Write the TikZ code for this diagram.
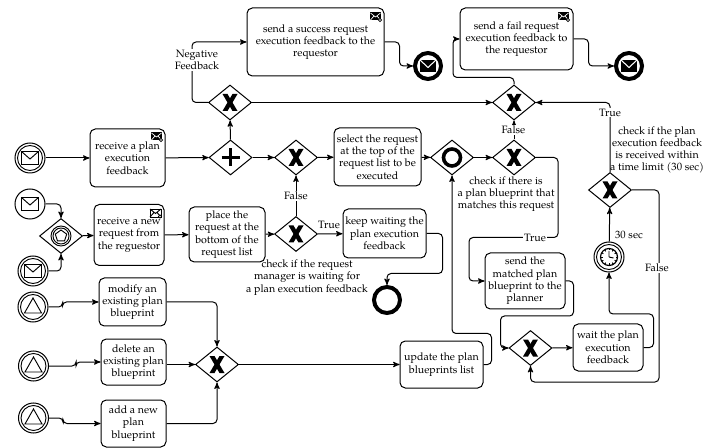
\documentclass[tikz,border=0pt]{standalone}
\usepackage{fontspec}
\setmainfont{TeX Gyre Pagella}
\usepackage{amsmath}
\usetikzlibrary{arrows, shapes, calc, positioning}
\newcommand{\px}{0.75pt}
\newcommand{\labelfont}{\fontsize{8}{9.2}\selectfont}
\tikzset {
    activity/.style args = {#1 by #2}{
        draw,
        shape = rectangle,
        rounded corners=4pt,
        line width=0.75pt,
        align=center,
        inner sep=0pt,
        font=\labelfont,
        minimum width=#1*\px,
        minimum height=#2*\px
    },
    % small envelopes for the upper right corner of a task
    sendmark/.pic = {
        \fill (-5.5,-4) rectangle (5.5,4);
        \draw[white, line width=0.5pt] (-5,-3.5) -- (0,0.5) -- (5,-3.5) (-5,3.5) -- (-1.5,-0.5) (5,3.5) -- (1.5,-0.5);
        \filldraw[fill=white, draw=black, line width=0.5pt] (4.5,3.5) circle (1.6);
    },
    receivemark/.pic = {
        \draw[line width=0.7pt] (-5.5,-4) rectangle (5.5,4);
        \draw[line width=0.7pt] (-5.5,-4) -- (0,0.5) -- (5.5,-4) (-5.5,4) -- (-1.5,-0.5) (5.5,4) -- (1.5,-0.5);
        \filldraw[fill=white, draw=black, line width=0.5pt] (4.5,3.5) circle (1.6);
    },
    gate/.style = {
        draw,
        shape = diamond,
        line width=0.75pt,
        inner sep=0pt,
        minimum width=43*\px,
        minimum height=35*\px
    },
    xgate/.style = {
        gate,
        path picture = {
            \begin{scope}[shift={(path picture bounding box.center)}]
                \fill (-7.5,-8.5) -- (-2.5,-8.5) -- (7.5,8.5) -- (2.5,8.5) -- cycle;
                \fill (7.5,-8.5) -- (2.5,-8.5) -- (-7.5,8.5) -- (-2.5,8.5) -- cycle;
            \end{scope}
        }
    },
    plusgate/.style = {
        gate,
        path picture = {
            \draw[line width=2.7pt, shift={(path picture bounding box.center)}]
                (-9,0) -- (9,0) (0,-9) -- (0,9);
        }
    },
    ogate/.style = {
        gate,
        path picture = {
            \draw[line width=2.7pt, shift={(path picture bounding box.center)}] (0,0) circle (8.5);
        }
    },
    eventgate/.style = {
        gate,
        path picture = {
            \begin{scope}[shift={(path picture bounding box.center)}, line width=0.7pt]
                \draw (0,0) circle (10) (0,0) circle (8);
                \draw (-90:6) -- (-18:6) -- (54:6) -- (126:6) -- (198:6) -- cycle;
            \end{scope}
        }
    },
    event/.style = {
        draw,
        shape = circle,
        line width=0.75pt,
        inner sep=0pt,
        minimum size=30*\px
    },
    mailstart/.style = {
        event,
        path picture = {
            \begin{scope}[shift={(path picture bounding box.center)}, line width=0.7pt]
                \draw (-8.5,-6.5) rectangle (8.5,6.5);
                \draw (-8.5,-6.5) -- (0,1) -- (8.5,-6.5);
            \end{scope}
        }
    },
    mailcatch/.style = {
        event,
        path picture = {
            \begin{scope}[shift={(path picture bounding box.center)}, line width=0.7pt]
                \draw (0,0) circle (12.5);
                \draw (-8.5,-6.5) rectangle (8.5,6.5);
                \draw (-8.5,-6.5) -- (0,1) -- (8.5,-6.5);
            \end{scope}
        }
    },
    signalcatch/.style = {
        event,
        path picture = {
            \begin{scope}[shift={(path picture bounding box.center)}, line width=0.7pt]
                \draw (0,0) circle (12.5);
                \draw (0,-9) -- (8.5,6) -- (-8.5,6) -- cycle;
            \end{scope}
        }
    },
    timercatch/.style = {
        event,
        path picture = {
            \begin{scope}[shift={(path picture bounding box.center)}, line width=0.7pt]
                \draw (0,0) circle (12.5);
                \draw[line width=0.9pt] (0,0) circle (8.5);
                \foreach \a in {0,30,...,330}
                    \draw (\a:8.5) -- (\a:6.5);
                \draw (0,0) -- (0,-6) (0,0) -- (4.5,1);
            \end{scope}
        }
    },
    finish/.style = {
        event,
        line width=3pt,
        minimum size=26*\px
    },
    mailfinish/.style = {
        finish,
        path picture = {
            \begin{scope}[shift={(path picture bounding box.center)}]
                \fill (-8,-6) rectangle (8,6);
                \draw[white, line width=0.8pt] (-8,-6) -- (0,1.5) -- (8,-6);
            \end{scope}
        }
    },
    flow/.style = {
        ->,
        >=stealth',
        line width=0.75pt,
        rounded corners=3pt,
        draw
    },
    note/.style = {
        align=center,
        inner sep=0.5pt,
        font=\labelfont
    },
    flownote/.style = {
        note,
        fill=white
    }
}

\begin{document}
\begin{tikzpicture}[x=\px, y=-\px]
        \useasboundingbox (0,0) rectangle (716,448);

        % Upper row : the two feedback tasks and their end events
        \node [activity={137 by 68}] at (315.5,42)              (success)   {send a success request\\execution feedback to the\\requestor};
        \node [mailfinish] at (428,66)                          (endA)      {};
        \node [activity={113 by 62}] at (516.5,39)              (fail)      {send a fail request\\execution feedback to\\the requestor};
        \node [mailfinish] at (629,66)                          (endB)      {};

        % Gateways above the request row
        \node [xgate] at (230,102.5)                            (negGate)   {};
        \node [xgate] at (514,102.5)                            (topGate)   {};

        % Plan feedback row
        \node [mailcatch] at (30,158)                           (startFb)   {};
        \node [activity={75 by 58}] at (127.5,158)              (recvFb)    {receive a plan\\execution\\feedback};
        \node [plusgate] at (230.5,157.5)                       (plusGate)  {};
        \node [xgate] at (296,157.5)                            (waitGate)  {};
        \node [activity={87 by 58}] at (377.5,157)              (select)    {select the request\\at the top of the\\request list to be\\executed};
        \node [ogate] at (452,157.5)                            (orGate)    {};
        \node [xgate] at (514,157.5)                            (planGate)  {};
        \node [xgate] at (610,190)                              (timeGate)  {};

        % New request row
        \node [mailstart] at (30,204)                           (startNew)  {};
        \node [eventgate] at (61,236)                           (evGate)    {};
        \node [mailcatch] at (33,271)                           (startAlt)  {};
        \node [activity={70 by 61}] at (129,235)                (recvNew)   {receive a new\\request from\\the reguestor};
        \node [activity={76 by 55}] at (227,234.5)              (place)     {place the\\request at the\\bottom of the\\request list};
        \node [xgate] at (296,234)                              (recGate)   {};
        \node [activity={83 by 49}] at (384.5,233.5)            (keep)      {keep waiting the\\plan execution\\feedback};
        \node [finish] at (387,300)                             (endNone)   {};
        \node [timercatch] at (609,257)                         (timer)     {};
        \node [activity={80 by 56}] at (525,281)                (matched)   {send the\\matched plan\\blueprint to the\\planner};

        % Blueprint rows
        \node [signalcatch] at (33,307)                         (sigA)      {};
        \node [signalcatch] at (33.5,366)                       (sigB)      {};
        \node [signalcatch] at (33.5,418)                       (sigC)      {};
        \node [activity={67 by 48}] at (132.5,302)              (modify)    {modify an\\existing plan\\blueprint};
        \node [activity={65 by 46}] at (133.5,362)              (delete)    {delete an\\existing plan\\blueprint};
        \node [activity={65 by 47}] at (133.5,423.5)            (add)       {add a new\\plan\\blueprint};
        \node [xgate] at (217,364.5)                            (merge)     {};
        \node [activity={83 by 47}] at (441.5,364.5)            (update)    {update the plan\\blueprints list};
        \node [xgate] at (530.5,348)                            (loopGate)  {};
        \node [activity={70 by 47}] at (608,347.5)              (wait)      {wait the plan\\execution\\feedback};

        % Task markers
        \pic at ($(success.north east)+(-9,9)$) {sendmark};
        \pic at ($(fail.north east)+(-10,9)$)   {sendmark};
        \pic at ($(recvFb.north east)+(-9,8)$)  {sendmark};
        \pic at ($(recvNew.north east)+(-9,9)$) {receivemark};

        \path[flow] (startFb)       --  (recvFb);
        \path[flow] (recvFb)        --  (plusGate);
        \path[flow] (plusGate)      --  (negGate);
        \path[flow] (plusGate)      --  (waitGate);
        \path[flow] (waitGate)      --  (select);
        \path[flow] (select)        --  (orGate);
        \path[flow] (orGate)        --  (planGate);
        \path[flow] (negGate)       --  (topGate);
        \path[flow] (planGate)      --  (topGate);

        \path[flow] (negGate.west) -- ++(-16,0) |- (success.west);
        \path[flow] (success.east) -- ++(15,0) |- (endA.west);
        \path[flow] (topGate.north) -- ++(0,-7) -- ++(-61,0) |- (fail.west);
        \path[flow] (fail.east) -- ++(15,0) |- (endB.west);
        \path[flow] (timeGate.north) |- (topGate.east);

        \path[flow] (startNew.east) -| (evGate.north);
        \path[flow] (startAlt.east) -| (evGate.south);
        \path[flow] (evGate)        --  (recvNew);
        \path[flow] (recvNew)       --  (place);
        \path[flow] (place)         --  (recGate);
        \path[flow] (recGate)       --  (keep);
        \path[flow] (recGate)       --  (waitGate);
        \path[flow] (keep.east) -- ++(16,0) -- ++(0,40) -| (endNone.north);

        \path[flow] (planGate.east) -- ++(22,0) -- ++(0,80) -- ++(-89,0) |- (matched.west);
        \path[flow] (matched.east) -- ++(8,0) -- ++(0,35) -- ++(-73,0) |- (loopGate.west);
        \path[flow] (loopGate)      --  (wait);
        \path[flow] (wait.east) -- ++(10,0) -- ++(0,-33.5) -| (timer.south);
        \path[flow] (timer)         --  (timeGate);
        \path[flow] (timeGate.east) -- ++(27,0) -- ++(0,192) -| (loopGate.south);

        \path[flow] (sigA.east) -- ++(14,0) |- (modify.west);
        \path[flow] (sigB.east) -- ++(27,0) |- (delete.west);
        \path[flow] (sigC.east) -- ++(14,0) |- (add.west);
        \path[flow] (modify.east) -| (merge.north);
        \path[flow] (merge.west -| delete.east) -- (merge.west);
        \path[flow] (add.east) -| (merge.south);
        \path[flow] (merge)         --  (update);
        \path[flow] (update.east) -- ++(8,0) -- ++(0,-31) -| (orGate.south);

        % Labels on the flows and beside the gateways
        \node [flownote] at (197,60)        (lblNeg)        {Negative\\Feedback};
        \node [flownote] at (296,196)       (lblRecFalse)   {False};
        \node [flownote] at (329,225)       (lblRecTrue)    {True};
        \node [flownote] at (513.5,130)     (lblPlanFalse)  {False};
        \node [flownote] at (535,238)       (lblPlanTrue)   {True};
        \node [flownote] at (610,112.5)     (lblTimeTrue)   {True};
        \node [flownote] at (657,268)       (lblTimeFalse)  {False};
        \node [note] at (629,235)           (lblTimer)      {30 sec};
        \node [note] at (307,277.5)         (lblRec)        {check if the request\\manager is waiting for\\a plan execution feedback};
        \node [note] at (506,194)           (lblPlan)       {check if there is\\a plan blueprint that\\matches this request};
        \node [note] at (657,150)           (lblTime)       {check if the plan\\execution feedback\\is received within\\a time limit (30 sec)};
    \end{tikzpicture}
\end{document}
